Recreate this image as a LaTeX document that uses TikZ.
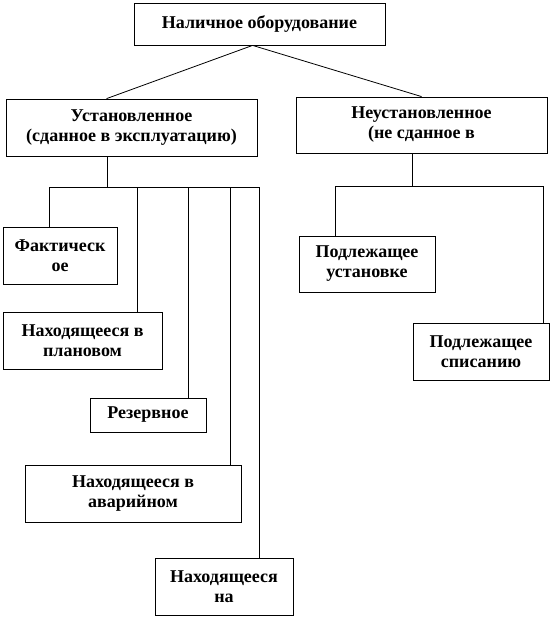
\documentclass[tikz,border=0pt]{standalone}
\usepackage{fontspec}
\setmainfont{Liberation Serif}
\usetikzlibrary{calc}
\begin{document}
\begin{tikzpicture}[x=1pt,y=-1pt,
  box/.style={draw, line width=0.8pt, align=center, inner sep=0pt,
    font=\fontsize{18}{20}\selectfont\bfseries},
  conn/.style={line width=0.8pt}]
\useasboundingbox[fill=white] (0,0) rectangle (552,618);
% boxes
\node[box, minimum width=251pt, minimum height=42pt] (top) at (259.5,24) {Наличное оборудование};
\node[box, minimum width=251pt, minimum height=57pt] (ust) at (131.5,127.5) {Установленное\\(сданное в эксплуатацию)};
\node[box, minimum width=251pt, minimum height=56pt] (neust) at (421.5,125) {Неустановленное\\(не сданное в};
\node[box, minimum width=114pt, minimum height=57pt] (fakt) at (60,255.5) {Фактическ\\ое};
\node[box, minimum width=159pt, minimum height=57pt] (plan) at (82.5,340.5) {Находящееся в\\плановом};
\node[box, minimum width=116pt, minimum height=34pt] (rez) at (148,415) {Резервное};
\node[box, minimum width=216pt, minimum height=57pt] (avar) at (133,493.5) {Находящееся в\\аварийном};
\node[box, minimum width=138pt, minimum height=57pt] (na) at (224,586.5) {Находящееся\\на};
\node[box, minimum width=136pt, minimum height=56pt] (inst) at (367,264) {Подлежащее\\установке};
\node[box, minimum width=136pt, minimum height=57pt] (spis) at (481,351.5) {Подлежащее\\списанию};
% top connectors
\draw[conn] ($(top.south west)+(119,0)$) -- ($(ust.north west)+(101,0)$);
\draw[conn] ($(top.south west)+(119,0)$) -- ($(neust.north west)+(126,0)$);
% left tree
\coordinate (ub) at (107,187);
\coordinate (u1) at (49,187);
\coordinate (u2) at (137,187);
\coordinate (u3) at (188,187);
\coordinate (u4) at (230,187);
\coordinate (u5) at (259,187);
\draw[conn] (ust.south -| ub) -- (ub);
\draw[conn] (u1) -- (u5);
\draw[conn] (u1) -- (u1 |- fakt.north);
\draw[conn] (u2) -- (u2 |- plan.north);
\draw[conn] (u3) -- (u3 |- rez.north);
\draw[conn] (u4) -- (u4 |- avar.north);
\draw[conn] (u5) -- (u5 |- na.north);
% right tree
\coordinate (nb) at (412,186);
\coordinate (n1) at (335,186);
\coordinate (n2) at (543,186);
\draw[conn] (neust.south -| nb) -- (nb);
\draw[conn] (n1 |- inst.north) -- (n1) -- (n2) -- (n2 |- spis.north);
\end{tikzpicture}
\end{document}
